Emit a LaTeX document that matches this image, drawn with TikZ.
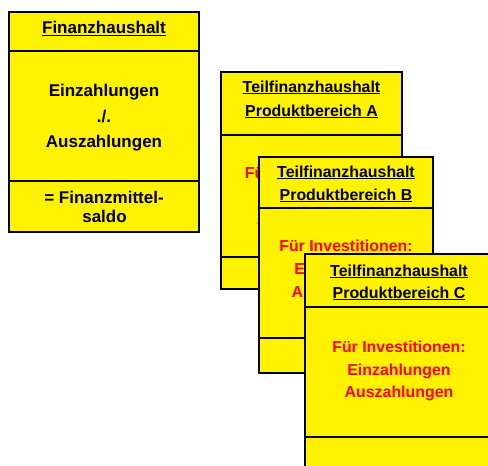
\documentclass[tikz,border=0pt]{standalone}
\usepackage{fontspec}
\setmainfont{Liberation Sans}
\usepackage{tikz}

\begin{document}
\begin{tikzpicture}[x=1pt,y=-1pt]
  \tikzstyle{sheet} = [draw=black, fill=yellow, line width=2.8pt, anchor=north west, inner sep=0pt, outer sep=0pt];
  \tikzstyle{divider} = [draw=black, line width=1.2pt];
  \tikzstyle{line} = [anchor=base, inner sep=0pt, font=\bfseries\fontsize{15.9}{23}\selectfont];
  \tikzstyle{bigline} = [line, font=\bfseries\fontsize{17}{25}\selectfont];
  \tikzstyle{invest} = [line, text=red];
  \useasboundingbox (0,0) rectangle (488,466);
  \clip (0,0) rectangle (488,466);

  % Finanzhaushalt
  \node (fh) [sheet, minimum width=190pt, minimum height=220pt] at (9,12) {};
  \draw [divider] ([yshift=-39pt]fh.north west) -- ([yshift=-39pt]fh.north east);
  \draw [divider] ([yshift=-169pt]fh.north west) -- ([yshift=-169pt]fh.north east);
  \node (fhtitle) [bigline] at (104,33.5) {\underline{Finanzhaushalt}};
  \node (fhein) [bigline] at (104,96) {Einzahlungen};
  \node (fhminus) [bigline] at (104,122) {./.};
  \node (fhaus) [bigline] at (104,147) {Auszahlungen};
  \node (fhsaldo) [bigline] at (104,203) {= Finanzmittel-};
  \node (fhsaldob) [bigline] at (104.5,222) {saldo};

  % Teilfinanzhaushalt A
  \node (pa) [sheet, minimum width=181pt, minimum height=217pt] at (221,72) {};
  \draw [divider] ([yshift=-63pt]pa.north west) -- ([yshift=-63pt]pa.north east);
  \draw [divider] ([yshift=-185pt]pa.north west) -- ([yshift=-185pt]pa.north east);
  \node (patitle) [line] at (311.5,92) {\underline{Teilfinanzhaushalt}};
  \node (pabereich) [line] at (311.5,116) {\underline{Produktbereich A}};
  \node (painv) [invest] at (311.5,178) {Für Investitionen:};
  \node (paein) [invest] at (311.5,201) {Einzahlungen};
  \node (paaus) [invest] at (311.5,224) {Auszahlungen};

  % Teilfinanzhaushalt B
  \node (pb) [sheet, minimum width=174pt, minimum height=216pt] at (259,157) {};
  \draw [divider] ([yshift=-51pt]pb.north west) -- ([yshift=-51pt]pb.north east);
  \draw [divider] ([yshift=-181pt]pb.north west) -- ([yshift=-181pt]pb.north east);
  \node (pbtitle) [line] at (346,177) {\underline{Teilfinanzhaushalt}};
  \node (pbbereich) [line] at (346,200) {\underline{Produktbereich B}};
  \node (pbinv) [invest] at (346,251) {Für Investitionen:};
  \node (pbein) [invest] at (346,274) {Einzahlungen};
  \node (pbaus) [invest] at (346,297) {Auszahlungen};

  % Teilfinanzhaushalt C
  \node (pc) [sheet, minimum width=188pt, minimum height=226pt] at (305,254) {};
  \draw [divider] ([yshift=-53pt]pc.north west) -- ([yshift=-53pt]pc.north east);
  \draw [divider] ([yshift=-183pt]pc.north west) -- ([yshift=-183pt]pc.north east);
  \node (pctitle) [line] at (399,276) {\underline{Teilfinanzhaushalt}};
  \node (pcbereich) [line] at (399,298) {\underline{Produktbereich C}};
  \node (pcinv) [invest] at (399,352) {Für Investitionen:};
  \node (pcein) [invest] at (399,375) {Einzahlungen};
  \node (pcaus) [invest] at (399,397) {Auszahlungen};
\end{tikzpicture}
\end{document}
